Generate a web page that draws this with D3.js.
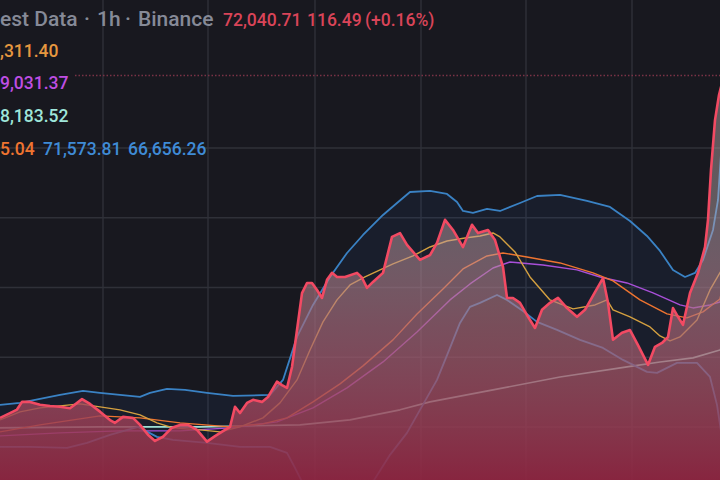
<!DOCTYPE html>
<html><head><meta charset="utf-8">
<script src="https://cdn.jsdelivr.net/npm/d3@7"></script>
<style>html,body{margin:0;padding:0;background:#18181f;overflow:hidden}</style>
</head><body>
<svg id="c" width="720" height="480"></svg>
<script>
// ---- data (hour index, price) ----
const closeSeries = [[0,67130],[2,67200],[3.4,67250],[4.4,67360],[6,67360],[8,67320],[10,67300],[12,67290],[14,67270],[16.4,67400],[18,67330],[20,67220],[22,67100],[23,67060],[24.6,67145],[26.6,67130],[28,67030],[29.6,66890],[31,66800],[32.6,66860],[34.4,66990],[36,67030],[37.6,67030],[39.4,66960],[41.4,66790],[43,66870],[45,66960],[46,67000],[47,67290],[48,67200],[49.4,67345],[50.6,67390],[52.4,67360],[53.6,67430],[55.4,67650],[56.4,67600],[57.4,67560],[58.4,67860],[59.4,68390],[60.4,68920],[61.4,69065],[62.4,69065],[63.4,68965],[64.4,68850],[65.4,69110],[66.4,69210],[67.4,69150],[69,69150],[71.4,69210],[72.4,69140],[73.4,68995],[74.6,69080],[76.6,69210],[78.4,69725],[80,69780],[81.4,69610],[84,69395],[86,69465],[87.4,69640],[89,69970],[90.6,69825],[92.6,69580],[94.4,69900],[95.6,69780],[97.6,69825],[99,69680],[100.6,69295],[101.4,68850],[102.6,68850],[104,68780],[105.6,68580],[107,68420],[108.4,68680],[110,68780],[111.6,68850],[113.4,68705],[115.4,68580],[117,68680],[119,68935],[120.6,69135],[121.6,68780],[122.6,68250],[124.4,68350],[126,68390],[127.6,68175],[129.6,67890],[131,68150],[132.4,68205],[133.6,68290],[134.6,68705],[135.6,68580],[136.6,68465],[138,68920],[139.6,69210],[141,69580],[141.6,69970],[142.2,70685],[143,71400],[143.8,71760],[144.8,72040.71]];
const bbUpper = [[0,67317],[4,67346],[8,67403],[12,67460],[16.6,67518],[20,67489],[24,67460],[28,67432],[30,67489],[33.4,67546],[37,67532],[41.4,67489],[46.6,67446],[54,67460],[56.6,67675],[59.4,68292],[62.6,68750],[66,69151],[69.4,69495],[72.6,69753],[76.6,70040],[79.4,70212],[82,70369],[86,70384],[89.4,70341],[91.4,70226],[92.6,70097],[94.6,70069],[97.4,70126],[100,70097],[104,70212],[107.4,70312],[112,70327],[117.4,70241],[122,70155],[126,69954],[129.4,69739],[132,69524],[134.6,69252],[137,69151],[139,69209],[140.6,69395],[142.6,69825],[143.6,70255],[144.8,71573.81]];
const bbLower = [[0,66715],[6,66715],[13.4,66701],[17.4,66773],[22,66887],[27.6,67002],[31.4,66859],[34.6,66816],[41.4,66773],[48,66715],[54,66715],[57.4,66629],[59,66414],[60.4,66214],[63,65600],[67,65300],[71,65500],[74.6,66214],[78,66601],[81.4,66916],[84,67246],[87.4,67675],[90,68134],[92,68492],[94,68722],[96,68779],[99.4,68893],[101.4,68822],[104.6,68664],[107.4,68507],[111.4,68392],[116,68249],[120.6,68134],[124.6,67962],[129.4,67790],[131.4,67776],[135.4,67919],[139.4,67919],[142,67718],[143.4,67317],[144.8,66656.26]];
const bbBasis = [[0,66930],[8,67031],[16,67117],[20,67160],[28,67131],[36,67059],[46,67002],[52.6,67045],[57.4,67131],[62.6,67360],[68,67618],[72.6,67876],[78.6,68249],[83.4,68621],[88.6,68979],[92.6,69266],[97.4,69452],[100.6,69495],[105.4,69438],[112,69352],[118.6,69209],[122.6,69094],[128,68822],[133.4,68621],[137.4,68564],[140.6,68650],[144,68836],[144.8,69115.04]];
const emaFast = [[0,67102],[4,67217],[8,67274],[12,67303],[16,67332],[20,67289],[24,67246],[28,67174],[31.4,67059],[34.6,66988],[40,66959],[44,66930],[48,67002],[52.6,67131],[56,67346],[59.4,67675],[62,68105],[64.6,68507],[67.4,68822],[70,69037],[73,69151],[78.6,69338],[82.6,69452],[86,69581],[89.4,69667],[93,69710],[96,69739],[98.6,69782],[100,69725],[103,69510],[106,69151],[110,68822],[114.6,68693],[119,68750],[121.4,68822],[122.6,68679],[126,68578],[130,68435],[132,68306],[134,68234],[136,68292],[139.4,68535],[142,68965],[144.8,69311.40]];
const emaMid = [[0,66873],[12,66916],[24,66945],[36,66945],[46,66988],[55.4,67074],[62.6,67274],[69.4,67561],[76.6,67933],[83.4,68363],[90,68822],[94,69051],[98.6,69280],[102,69366],[108.6,69323],[115.4,69252],[120,69151],[125.4,69065],[130.6,68922],[136,68750],[138.6,68707],[142,68750],[144,68793],[144.8,69031.37]];
const emaSlow = [[0,66988],[20,67002],[40,67002],[60,67031],[70,67102],[80,67246],[86,67360],[98.6,67532],[112,67718],[125.4,67862],[132,67933],[138.6,67991],[144,68105],[144.8,68183.52]];
const lastPrice = 72040.71;
const hourGrid = [20.6, 41.6, 63, 84.2, 105.2, 126.4];
const priceGrid = [67000, 68000, 69000, 70000, 71000];
const titleParts = ["est Data", "·", "1h", "·", "Binance"];
const titleValues = ["72,040.71", "116.49", "(+0.16%)"];
const legendRows = [
  [{t:",311.40", c:"#e6973f"}],
  [{t:"9,031.37", c:"#bf4ee3"}],
  [{t:"8,183.52", c:"#9fe6da"}],
  [{t:"5.04", c:"#ef7430"}, {t:"71,573.81", c:"#3f8bd6"}, {t:"66,656.26", c:"#3f8bd6"}]
];

// ---- drawing ----
const W = 720, H = 480;
const svg = d3.select("#c");
const x = d3.scaleLinear().domain([0, 144]).range([0, W]);
const y = d3.scaleLinear().domain([67000, 71000]).range([427, 148]);

svg.append("rect").attr("width", W).attr("height", H).attr("fill", "#18181f");

const defs = svg.append("defs");
const grad = defs.append("linearGradient").attr("id", "pf")
  .attr("gradientUnits", "userSpaceOnUse").attr("x1", 0).attr("x2", 0).attr("y1", 200).attr("y2", 480);
grad.append("stop").attr("offset", 0).attr("stop-color", "rgb(200,178,180)").attr("stop-opacity", 0.42);
grad.append("stop").attr("offset", 0.45).attr("stop-color", "rgb(170,105,120)").attr("stop-opacity", 0.66);
grad.append("stop").attr("offset", 1).attr("stop-color", "rgb(145,38,66)").attr("stop-opacity", 0.92);
defs.append("clipPath").attr("id", "clip").append("rect").attr("width", W).attr("height", H);

const g = svg.append("g").attr("clip-path", "url(#clip)");

// grid
g.selectAll(".vg").data(hourGrid).join("line")
  .attr("x1", d => x(d)).attr("x2", d => x(d)).attr("y1", 0).attr("y2", H)
  .attr("stroke", "#2f3038").attr("stroke-width", 1.4);
g.selectAll(".hg").data(priceGrid).join("line")
  .attr("x1", 0).attr("x2", W).attr("y1", d => y(d)).attr("y2", d => y(d))
  .attr("stroke", "#2f3038").attr("stroke-width", 1.4);

const line = d3.line().x(d => x(d[0])).y(d => y(d[1]));

// BB fill
g.append("path").attr("d", line(bbUpper.concat(bbLower.slice().reverse())) + "Z")
  .attr("fill", "rgba(40,120,220,0.07)");

// indicator lines
const ind = [
  [emaSlow, "#9fe0d4", 1.6],
  [emaMid, "#a84fd8", 1.4],
  [bbBasis, "#ee7430", 1.4],
  [emaFast, "#d4a040", 1.4],
  [bbUpper, "#3a82c4", 1.8],
  [bbLower, "#3a82c4", 1.8]
];
ind.forEach(([data, col, w]) => {
  g.append("path").attr("d", line(data)).attr("fill", "none")
    .attr("stroke", col).attr("stroke-width", w).attr("stroke-linejoin", "round");
});

// price area
const area = d3.area().x(d => x(d[0])).y0(H + 10).y1(d => y(d[1]));
g.append("path").attr("d", area(closeSeries)).attr("fill", "url(#pf)");
g.append("path").attr("d", line(closeSeries)).attr("fill", "none")
  .attr("stroke", "#f24a63").attr("stroke-width", 2.6).attr("stroke-linejoin", "round");

// last price dotted line
g.append("line").attr("x1", 75).attr("x2", W).attr("y1", y(lastPrice)).attr("y2", y(lastPrice))
  .attr("stroke", "#7a3246").attr("stroke-width", 1.5).attr("stroke-dasharray", "1.5,2");

// legend text
const font = "Roboto, 'Noto Sans', sans-serif";
const titleX = [0, 84, 97, 125, 138];
titleParts.forEach((p, i) => {
  svg.append("text").attr("x", titleX[i]).attr("y", 26).attr("font-family", font)
    .attr("font-size", 21).attr("font-weight", 500).attr("fill", "#868a97").text(p);
});
const valX = [223, 307, 365];
titleValues.forEach((v, i) => {
  svg.append("text").attr("x", valX[i]).attr("y", 26).attr("font-family", font)
    .attr("font-size", 17.5).attr("font-weight", 500).attr("fill", "#d94458").text(v);
});

const rowY = [57, 89, 122, 155];
const rowX = [[0], [0], [0], [0, 43, 128]];
legendRows.forEach((row, i) => {
  row.forEach((item, j) => {
    svg.append("text").attr("x", rowX[i][j]).attr("y", rowY[i])
      .attr("font-family", font).attr("font-size", 17.5).attr("font-weight", 500)
      .attr("fill", item.c).text(item.t);
  });
});
</script>
</body></html>
